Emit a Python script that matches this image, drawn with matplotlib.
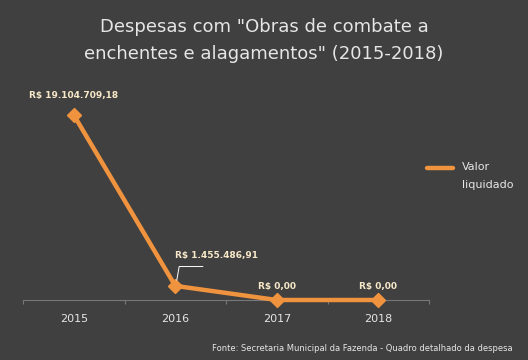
import matplotlib
matplotlib.use("Agg")
import matplotlib.pyplot as plt
from matplotlib.lines import Line2D

# data
years = ["2015", "2016", "2017", "2018"]
valores = [19104709.18, 1455486.91, 0.0, 0.0]
rotulos = ["R$ 19.104.709,18", "R$ 1.455.486,91", "R$ 0,00", "R$ 0,00"]

bg = "#404040"
laranja = "#f0933f"
texto = "#e6e6e6"
rotulo_cor = "#f7e8c8"

plt.rcParams['font.family'] = ['DejaVu Sans']

fig = plt.figure(figsize=(5.28, 3.6), dpi=100)
fig.patch.set_facecolor(bg)
ax = fig.add_axes([0.0436, 0.1667, 0.7689, 0.5555])
ax.set_facecolor(bg)

x = list(range(len(years)))
ax.plot(x, valores, color=laranja, lw=3.2, marker="D", ms=7, mec=laranja, mfc=laranja,
        solid_joinstyle="miter", clip_on=False, zorder=3)

ax.set_xlim(-0.5, 3.5)
ax.set_ylim(0, 20.65e6)
ax.set_xticks([i - 0.5 for i in range(5)])
ax.set_xticklabels([])
ax.set_xticks(x, minor=True)
ax.set_xticklabels(years, minor=True)
ax.tick_params(axis="x", which="major", length=3, color="#777777", width=0.8, direction="out")
ax.tick_params(axis="x", which="minor", length=0, colors=texto, labelsize=8, pad=10)
ax.set_yticks([])
for s in ["top", "right", "left"]:
    ax.spines[s].set_visible(False)
ax.spines["bottom"].set_color("#777777")
ax.spines["bottom"].set_linewidth(0.8)

# data labels
ax.annotate(rotulos[0], (x[0], valores[0]), xytext=(0, 14), textcoords="offset points",
            ha="center", va="center", color=rotulo_cor, fontsize=6.5, fontweight="bold")
ax.annotate(rotulos[1], (x[1], valores[1]), xytext=(30, 22), textcoords="offset points",
            ha="center", va="center", color=rotulo_cor, fontsize=6.5, fontweight="bold")
ax.annotate("", (x[1] + 0.01, valores[1] + 0.3e6), xytext=(x[1] + 0.3, valores[1] + 2.0e6),
            arrowprops=dict(arrowstyle="-", color="white", lw=0.7,
                            connectionstyle="angle,angleA=0,angleB=80,rad=0"))
for i in [2, 3]:
    ax.annotate(rotulos[i], (x[i], valores[i]), xytext=(0, 10), textcoords="offset points",
                ha="center", va="center", color=rotulo_cor, fontsize=6.5, fontweight="bold")

# title
fig.text(0.5, 0.925, 'Despesas com "Obras de combate a', ha="center", va="center",
         color=texto, fontsize=13)
fig.text(0.5, 0.85, 'enchentes e alagamentos" (2015-2018)', ha="center", va="center",
         color=texto, fontsize=13)

# legend
fig.lines.append(Line2D([0.809, 0.858], [0.533, 0.533], transform=fig.transFigure,
                        color=laranja, lw=3.2, solid_capstyle="round"))
fig.text(0.875, 0.535, "Valor", color=texto, fontsize=8, va="center")
fig.text(0.875, 0.487, "liquidado", color=texto, fontsize=8, va="center")

# source
fig.text(0.97, 0.033, "Fonte: Secretaria Municipal da Fazenda - Quadro detalhado da despesa",
         ha="right", va="center", color=texto, fontsize=6)

fig.savefig("out.png", dpi=100, facecolor=bg)
